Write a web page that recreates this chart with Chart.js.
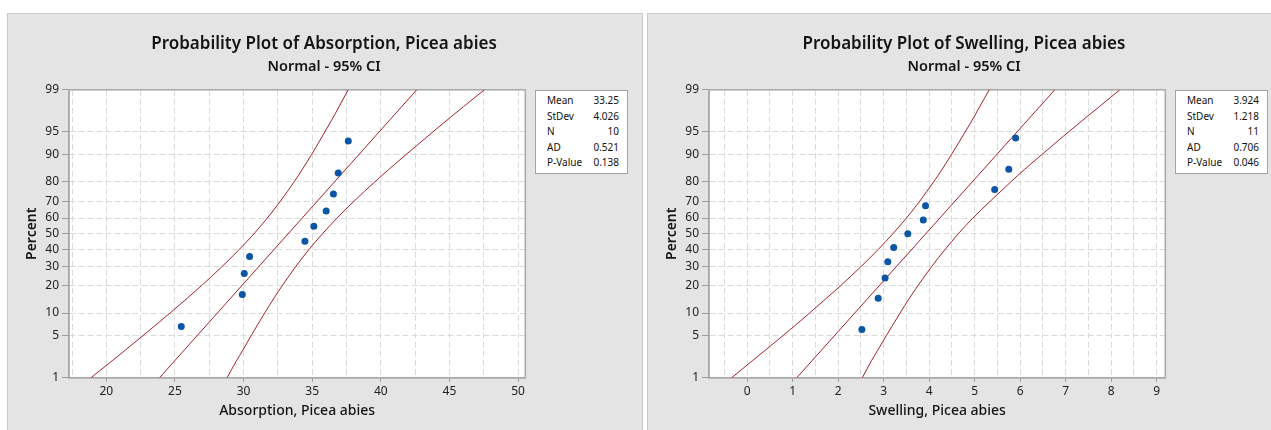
<!DOCTYPE html>
<html>
<head>
<meta charset="utf-8">
<script src="https://cdn.jsdelivr.net/npm/chart.js@4.4.1/dist/chart.umd.min.js"></script>
<style>
  html, body { margin: 0; padding: 0; background: #ffffff; width: 1271px; height: 430px; overflow: hidden; }
  .panel { position: absolute; top: 13px; width: 636px; height: 440px; box-sizing: border-box;
           border: 1px solid #c8c8c8; background: #e4e4e4; }
  .panel canvas { position: absolute; left: 0; top: 0; }
  .stats { position: absolute; left: 527px; top: 76px; width: 93px; height: 84px; box-sizing: border-box;
           border: 1px solid #a3a3a3; background: #ffffff; padding: 2px 8px 0 11px;
           font-family: "Noto Sans", sans-serif; font-size: 10px; color: #111; }
  .stats .row { display: flex; justify-content: space-between; height: 15.6px; line-height: 15.6px; white-space: nowrap; }
</style>
</head>
<body>
<div class="panel" id="panelA" style="left:7px"><canvas id="chartA" width="634" height="420"></canvas></div>
<div class="panel" id="panelB" style="left:647px"><canvas id="chartB" width="634" height="420"></canvas></div>
<script>
// ---- Absorption, Picea abies ----
const absorptionValues = [25.46, 29.91, 30.05, 30.44, 34.47, 35.12, 36.02, 36.55, 36.90, 37.63];
const absorptionPercent = [6.7, 16.3, 26.0, 35.6, 45.2, 54.8, 64.4, 74.0, 83.7, 93.3];
const absorptionFit = [23.88, 42.62];
const absorptionLowerCI = [18.89, 20.42, 21.38, 22.68, 24.64, 25.93, 26.92, 28.46, 29.69, 30.76, 31.73, 32.68, 33.69, 34.27, 34.96, 35.92, 36.53, 36.96, 37.62];
const absorptionUpperCI = [28.80, 29.48, 29.95, 30.56, 31.54, 32.23, 32.81, 33.82, 34.77, 35.75, 36.81, 38.04, 39.58, 40.57, 41.85, 43.79, 45.07, 46.02, 47.55];
const absorptionTicks = [20, 25, 30, 35, 40, 45, 50];
const absorptionRange = [17.28, 50.53];
const absorptionStats = [['Mean', '33.25'], ['StDev', '4.026'], ['N', '10'], ['AD', '0.521'], ['P-Value', '0.138']];

// ---- Swelling, Picea abies ----
const swellingValues = [2.52, 2.88, 3.03, 3.09, 3.22, 3.53, 3.87, 3.92, 5.44, 5.75, 5.90];
const swellingPercent = [6.1, 14.9, 23.7, 32.5, 41.2, 50.0, 58.8, 67.5, 76.3, 85.1, 93.9];
const swellingFit = [1.09, 6.76];
const swellingLowerCI = [-0.34, 0.11, 0.40, 0.79, 1.37, 1.75, 2.05, 2.51, 2.88, 3.20, 3.50, 3.79, 4.10, 4.28, 4.49, 4.79, 4.98, 5.11, 5.32];
const swellingUpperCI = [2.53, 2.73, 2.87, 3.06, 3.36, 3.57, 3.75, 4.06, 4.35, 4.64, 4.96, 5.34, 5.80, 6.09, 6.48, 7.06, 7.45, 7.74, 8.19];
const swellingTicks = [0, 1, 2, 3, 4, 5, 6, 7, 8, 9];
const swellingRange = [-0.84, 9.19];
const swellingStats = [['Mean', '3.924'], ['StDev', '1.218'], ['N', '11'], ['AD', '0.706'], ['P-Value', '0.046']];

// shared percent levels
const fitPercent = [1, 99];
const bandPercent = [1, 2, 3, 5, 10, 15, 20, 30, 40, 50, 60, 70, 80, 85, 90, 95, 97, 98, 99];
const percentTicks = [1, 5, 10, 20, 30, 40, 50, 60, 70, 80, 90, 95, 99];

// inverse of the standard normal CDF (Acklam)
function probit(p) {
  const a = [-3.969683028665376e+01, 2.209460984245205e+02, -2.759285104469687e+02, 1.383577518672690e+02, -3.066479806614716e+01, 2.506628277459239e+00];
  const b = [-5.447609879822406e+01, 1.615858368580409e+02, -1.556989798598866e+02, 6.680131188771972e+01, -1.328068155288572e+01];
  const c = [-7.784894002430293e-03, -3.223964580411365e-01, -2.400758277161838e+00, -2.549732539343734e+00, 4.374664141464968e+00, 2.938163982698783e+00];
  const d = [7.784695709041462e-03, 3.224671290700398e-01, 2.445134137142996e+00, 3.754408661907416e+00];
  const pl = 0.02425;
  let q, r;
  if (p < pl) {
    q = Math.sqrt(-2 * Math.log(p));
    return (((((c[0]*q+c[1])*q+c[2])*q+c[3])*q+c[4])*q+c[5]) / ((((d[0]*q+d[1])*q+d[2])*q+d[3])*q+1);
  }
  if (p <= 1 - pl) {
    q = p - 0.5; r = q * q;
    return (((((a[0]*r+a[1])*r+a[2])*r+a[3])*r+a[4])*r+a[5])*q / (((((b[0]*r+b[1])*r+b[2])*r+b[3])*r+b[4])*r+1);
  }
  q = Math.sqrt(-2 * Math.log(1 - p));
  return -(((((c[0]*q+c[1])*q+c[2])*q+c[3])*q+c[4])*q+c[5]) / ((((d[0]*q+d[1])*q+d[2])*q+d[3])*q+1);
}

// Normal probability axis: percent values placed by their normal quantile
class ProbitScale extends Chart.Scale {
  determineDataLimits() { this.min = this.options.min; this.max = this.options.max; }
  buildTicks() { return this.options.tickValues.map(v => ({ value: v })); }
  configure() {
    super.configure();
    this._z0 = probit(this.min / 100);
    this._zr = probit(this.max / 100) - this._z0;
  }
  getLabelForValue(v) { return String(v); }
  getPixelForValue(v) { return this.getPixelForDecimal((probit(v / 100) - this._z0) / this._zr); }
  getValueForPixel(px) {
    const target = this._z0 + this.getDecimalForPixel(px) * this._zr;
    let lo = 1e-6, hi = 1 - 1e-6;
    for (let i = 0; i < 60; i++) { const m = (lo + hi) / 2; if (probit(m) < target) lo = m; else hi = m; }
    return 100 * lo;
  }
}
ProbitScale.id = 'probit';
ProbitScale.defaults = {};
Chart.register(ProbitScale);

const FONT = '"Noto Sans", sans-serif';
const RED = '#a3232a';
const BLUE = '#0a55a6';
const GRID = '#dadada';
const FRAME = '#a8a8a8';

// white plotting field with a grey frame
const framePlugin = {
  id: 'frame',
  beforeDraw(chart) {
    const { ctx, chartArea: a } = chart;
    ctx.save();
    ctx.fillStyle = '#ffffff';
    ctx.fillRect(a.left, a.top, a.right - a.left, a.bottom - a.top);
    ctx.restore();
  },
  beforeDatasetsDraw(chart) {
    const { ctx, chartArea: a } = chart;
    ctx.save();
    ctx.strokeStyle = FRAME;
    ctx.lineWidth = 1.5;
    ctx.strokeRect(a.left, a.top, a.right - a.left, a.bottom - a.top);
    ctx.restore();
  }
};

function pairs(xs, ys) { return xs.map((x, i) => ({ x: x, y: ys[i] })); }

function buildPlot(canvasId, panelId, spec) {
  const majors = spec.ticks;
  const step = majors[1] - majors[0];
  const gridValues = [];
  for (let v = majors[0] - step / 2; v <= spec.range[1]; v += step / 2) {
    if (v >= spec.range[0]) gridValues.push(Math.round(v * 100) / 100);
  }
  const lineStyle = { type: 'line', showLine: true, borderColor: RED, borderWidth: 1, pointRadius: 0, fill: false };

  new Chart(document.getElementById(canvasId), {
    type: 'scatter',
    data: {
      datasets: [
        Object.assign({ data: pairs(spec.lower, bandPercent), cubicInterpolationMode: 'monotone' }, lineStyle),
        Object.assign({ data: pairs(spec.upper, bandPercent), cubicInterpolationMode: 'monotone' }, lineStyle),
        Object.assign({ data: pairs(spec.fit, fitPercent) }, lineStyle),
        { type: 'scatter', data: pairs(spec.values, spec.percent), pointRadius: 3.5,
          pointBackgroundColor: BLUE, pointBorderWidth: 0, order: -1 }
      ]
    },
    options: {
      responsive: false, animation: false, devicePixelRatio: 1, events: [],
      layout: { padding: { left: 11, right: 13, top: 0, bottom: 6.3 } },
      plugins: {
        legend: { display: false }, tooltip: { enabled: false },
        title: { display: true, text: spec.title, color: '#141414',
                 font: { family: FONT, size: 17, weight: '600', lineHeight: 1.2 },
                 padding: { top: 20, bottom: 0 } },
        subtitle: { display: true, text: 'Normal - 95% CI', color: '#141414',
                    font: { family: FONT, size: 14.5, weight: '600', lineHeight: 1.2 },
                    padding: { top: 4, bottom: 14 } }
      },
      scales: {
        x: {
          type: 'linear', min: spec.range[0], max: spec.range[1],
          afterBuildTicks: s => { s.ticks = gridValues.map(v => ({ value: v })); },
          afterFit: s => { s.height = 50; },
          ticks: { autoSkip: false, maxRotation: 0, padding: 3, color: '#222',
                   font: { family: FONT, size: 12 },
                   callback: v => (majors.indexOf(v) >= 0 ? String(v) : '') },
          grid: { color: GRID, lineWidth: 1, tickLength: 4, tickBorderDash: [],
                  tickColor: c => (c.tick && majors.indexOf(c.tick.value) >= 0 ? '#9a9a9a' : 'rgba(0,0,0,0)') },
          border: { display: true, color: FRAME, width: 1.5, dash: [6, 3] },
          title: { display: true, text: spec.xTitle, color: '#141414',
                   font: { family: FONT, size: 14, weight: '500' }, padding: { top: 0, bottom: 8.3 } }
        },
        y: {
          type: 'probit', min: 1, max: 99, tickValues: percentTicks, position: 'left',
          afterFit: s => { s.width = 50; },
          ticks: { autoSkip: false, padding: 3, color: '#222', font: { family: FONT, size: 12 },
                   callback: v => String(v) },
          grid: { color: GRID, lineWidth: 1, tickLength: 7, tickBorderDash: [], tickColor: '#9a9a9a' },
          border: { display: true, color: FRAME, width: 1.5, dash: [6, 3] },
          title: { display: true, text: 'Percent', color: '#141414',
                   font: { family: FONT, size: 14, weight: '600' }, padding: { top: 5, bottom: 0 } }
        },
        // empty right-hand strip that leaves room for the statistics box
        side: {
          type: 'linear', position: 'right', axis: 'y',
          afterFit: s => { s.width = 103.7; },
          ticks: { display: false }, grid: { display: false }, border: { display: false }
        }
      }
    },
    plugins: [framePlugin]
  });

  const box = document.createElement('div');
  box.className = 'stats';
  spec.stats.forEach(([k, v]) => {
    const row = document.createElement('div');
    row.className = 'row';
    const a = document.createElement('span'); a.textContent = k;
    const b = document.createElement('span'); b.textContent = v;
    row.appendChild(a); row.appendChild(b);
    box.appendChild(row);
  });
  document.getElementById(panelId).appendChild(box);
}

buildPlot('chartA', 'panelA', {
  title: 'Probability Plot of Absorption, Picea abies', xTitle: 'Absorption, Picea abies',
  values: absorptionValues, percent: absorptionPercent, fit: absorptionFit,
  lower: absorptionLowerCI, upper: absorptionUpperCI,
  ticks: absorptionTicks, range: absorptionRange, stats: absorptionStats
});
buildPlot('chartB', 'panelB', {
  title: 'Probability Plot of Swelling, Picea abies', xTitle: 'Swelling, Picea abies',
  values: swellingValues, percent: swellingPercent, fit: swellingFit,
  lower: swellingLowerCI, upper: swellingUpperCI,
  ticks: swellingTicks, range: swellingRange, stats: swellingStats
});
</script>
</body>
</html>
